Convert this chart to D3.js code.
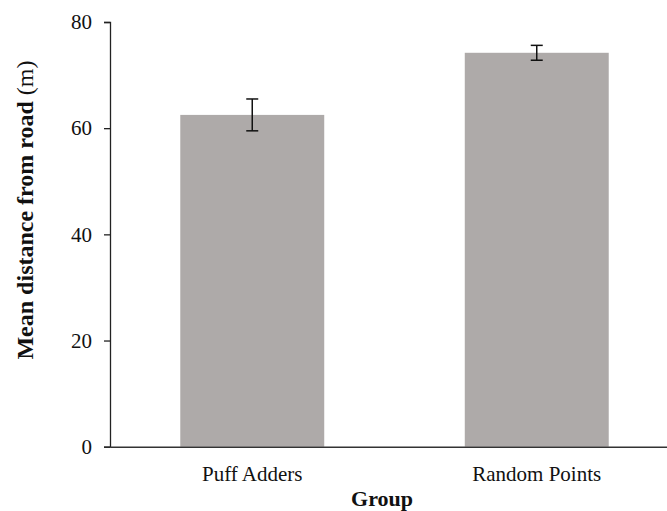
<!DOCTYPE html>
<html>
<head>
<meta charset="utf-8">
<script src="https://cdn.jsdelivr.net/npm/d3@7"></script>
<style>
  html, body { margin: 0; padding: 0; background: #fff; }
  svg { display: block; font-family: "Liberation Serif", "Times New Roman", serif; }
</style>
</head>
<body>
<svg id="chart" width="667" height="511"></svg>
<script>
// Mean distance from road (m) with standard error, per group
const groups = ["Puff Adders", "Random Points"];
const means = [62.5, 74.2];
const errors = [3.0, 1.4];
const yTicks = [0, 20, 40, 60, 80];

const svg = d3.select("#chart");

const x = d3.scaleBand()
  .domain(groups)
  .range([110, 679])
  .paddingInner(0.494)
  .paddingOuter(0.247);

const y = d3.scaleLinear()
  .domain([0, 80])
  .range([446.7, 22]);

// bars
svg.append("g")
  .selectAll("rect")
  .data(groups)
  .join("rect")
  .attr("x", d => x(d))
  .attr("width", x.bandwidth())
  .attr("y", (d, i) => y(means[i]))
  .attr("height", (d, i) => y(0) - y(means[i]))
  .attr("fill", "#aeaaa9");

// error bars
const eb = svg.append("g")
  .attr("stroke", "#111")
  .attr("stroke-width", 1.5);
groups.forEach((g, i) => {
  const cx = x(g) + x.bandwidth() / 2;
  const top = y(means[i] + errors[i]);
  const bot = y(means[i] - errors[i]);
  eb.append("line").attr("x1", cx).attr("x2", cx).attr("y1", top).attr("y2", bot);
  eb.append("line").attr("x1", cx - 6).attr("x2", cx + 6).attr("y1", top).attr("y2", top);
  eb.append("line").attr("x1", cx - 6).attr("x2", cx + 6).attr("y1", bot).attr("y2", bot);
});

// y axis
const yAxis = svg.append("g")
  .attr("transform", "translate(110,0)")
  .call(d3.axisLeft(y).tickValues(yTicks).tickSize(6).tickPadding(12).tickFormat(d3.format("d")));
yAxis.select(".domain").attr("stroke", "#222").attr("stroke-width", 1.3);
yAxis.selectAll(".tick line").attr("stroke", "#222").attr("stroke-width", 1.3);
yAxis.selectAll(".tick text")
  .attr("font-family", "'Liberation Serif', 'Times New Roman', serif")
  .attr("font-size", 21)
  .attr("fill", "#111");

// x axis
const xAxis = svg.append("g")
  .attr("transform", `translate(0,${y(0)})`)
  .call(d3.axisBottom(x).tickSizeInner(0).tickSizeOuter(0).tickPadding(19));
xAxis.select(".domain").attr("stroke", "#333").attr("stroke-width", 1.6);
xAxis.selectAll(".tick text")
  .attr("font-family", "'Liberation Serif', 'Times New Roman', serif")
  .attr("font-size", 21)
  .attr("fill", "#111");

// axis titles
svg.append("text")
  .attr("x", 382)
  .attr("y", 506)
  .attr("text-anchor", "middle")
  .attr("font-size", 22)
  .attr("font-weight", "bold")
  .attr("fill", "#111")
  .text("Group");

const yTitle = svg.append("text")
  .attr("transform", "translate(33,210) rotate(-90)")
  .attr("text-anchor", "middle")
  .attr("font-size", 24)
  .attr("fill", "#111");
yTitle.append("tspan").attr("font-weight", "bold").text("Mean distance from road");
yTitle.append("tspan").text(" (m)");
</script>
</body>
</html>
